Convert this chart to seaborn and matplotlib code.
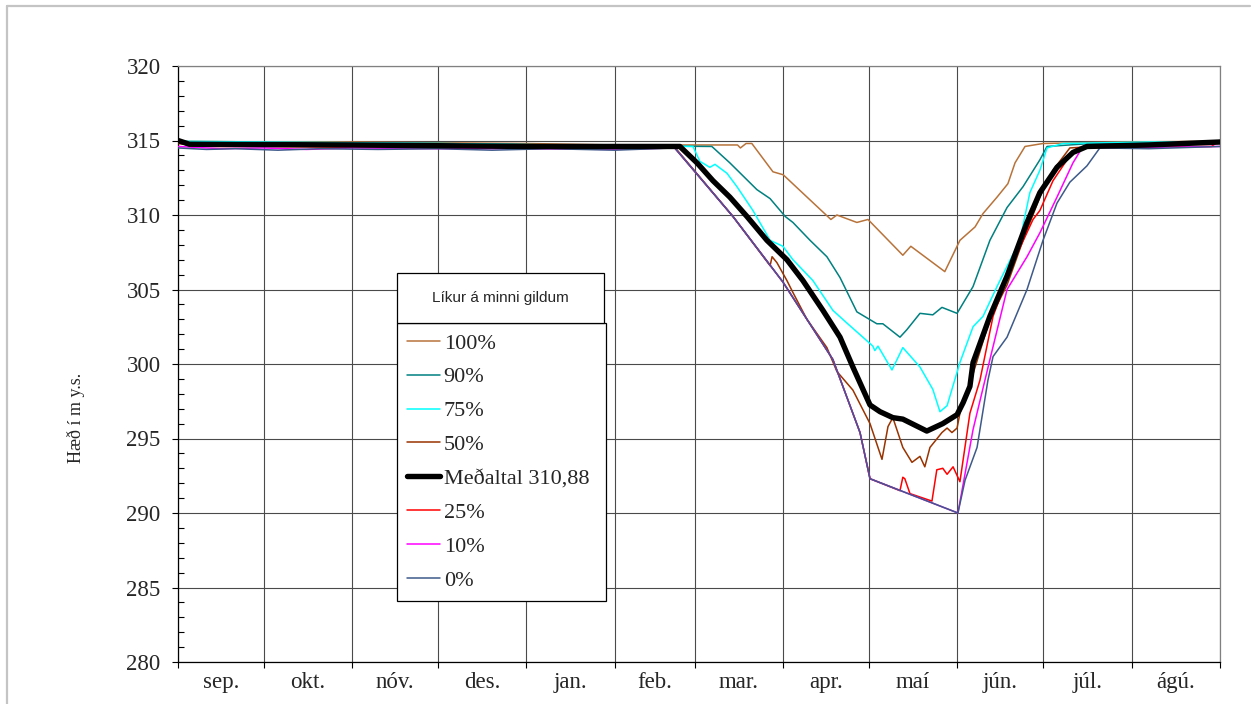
import numpy as np
import pandas as pd
import seaborn as sns
import matplotlib.pyplot as plt
from matplotlib.patches import Rectangle
from matplotlib.lines import Line2D
from matplotlib.ticker import MultipleLocator, FixedLocator, NullFormatter

# months on the x axis (days from 1 sep)
months = ['sep.', 'okt.', 'nóv.', 'des.', 'jan.', 'feb.', 'mar.', 'apr.', 'maí', 'jún.', 'júl.', 'ágú.']
month_len = [30, 31, 30, 31, 31, 28, 31, 30, 31, 30, 31, 31]

# water level (m y.s.)
d100 = [0, 30, 61, 91, 122, 153, 174, 196, 197, 199, 201, 208.4, 212, 228.7, 230.8, 237.8, 241.7,
        253.9, 256.7, 268.6, 273.9, 279.2, 282, 286.9, 290.7, 293.2, 296.7, 303, 330, 365]
v100 = [314.95, 314.9, 314.9, 314.85, 314.8, 314.7, 314.7, 314.7, 314.5, 314.8, 314.8, 312.9, 312.7, 309.7, 310.0,
        309.5, 309.7, 307.3, 307.9, 306.2, 308.3, 309.2, 310.1, 311.2, 312.1, 313.5, 314.6, 314.8, 314.9, 314.95]

d90 = [0, 30, 91, 153, 187, 193.3, 202.8, 207.4, 212.7, 215.4, 221.4, 227.3, 231.9, 237.8, 244.8, 246.9,
       252.9, 255.3, 259.9, 264.4, 267.6, 272.9, 278.5, 284.4, 290.4, 296.0, 301.9, 304.4, 320, 365]
v90 = [314.9, 314.85, 314.8, 314.65, 314.6, 313.5, 311.7, 311.1, 309.9, 309.5, 308.3, 307.2, 305.8, 303.5, 302.7,
       302.7, 301.8, 302.3, 303.4, 303.3, 303.8, 303.4, 305.2, 308.3, 310.5, 311.9, 313.7, 314.6, 314.8, 314.9]

d75 = [0, 30, 91, 153, 180.4, 182.8, 186.3, 188.1, 192.3, 195.8, 201.4, 207.4, 211.9, 215.4, 222.4, 229.4,
       234.3, 239.9, 243.4, 244.1, 245.2, 250.1, 253.9, 259.9, 264.4, 266.9, 269.4, 273.9, 278.5, 282.0,
       286.9, 294.9, 298.4, 301.9, 304.4, 310, 340, 365]
v75 = [314.95, 314.9, 314.8, 314.65, 314.6, 313.6, 313.2, 313.4, 312.8, 311.9, 310.3, 308.3, 307.9, 307.0, 305.6,
       303.6, 302.75, 301.8, 301.2, 300.9, 301.2, 299.6, 301.1, 299.8, 298.3, 296.8, 297.2, 300.1, 302.5, 303.2,
       305.2, 308.3, 311.5, 313.0, 314.5, 314.8, 314.9, 314.9]

d50 = [0, 4, 61, 122, 174, 194.4, 207.4, 208.1, 209.8, 213.3, 215.4, 220.3, 227.3, 230.8, 236.4, 242.4,
       246.6, 248.7, 250.4, 253.9, 257.1, 259.9, 261.6, 263.4, 267.6, 269.4, 271.1, 272.9, 273.9, 276.4,
       284.4, 290.4, 296.0, 301.9, 306.5, 312.4, 330, 365]
v50 = [314.8, 314.7, 314.65, 314.6, 314.55, 309.9, 306.6, 307.2, 306.8, 305.6, 304.8, 303.0, 301.1, 299.5, 298.25,
       296.0, 293.6, 295.8, 296.4, 294.4, 293.4, 293.8, 293.1, 294.4, 295.4, 295.7, 295.4, 295.7, 296.7, 298.05,
       303.0, 305.3, 308.3, 311.2, 313.0, 314.5, 314.7, 314.8]

d_mean = [0, 4, 61, 122, 174.1, 175.8, 181.8, 187.4, 193.3, 199.3, 206.3, 213.3, 218.9, 225.9, 231.9, 236.4,
          242.4, 245.9, 250.4, 253.9, 262.3, 267.9, 272.9, 275.0, 277.4, 278.5, 284.4, 290.4, 297.4, 301.9,
          307.9, 313.5, 318.4, 340, 365]
v_mean = [315.0, 314.75, 314.7, 314.6, 314.6, 314.6, 313.5, 312.3, 311.2, 309.9, 308.3, 307.0, 305.6, 303.6, 301.8,
          299.8, 297.25, 296.8, 296.4, 296.3, 295.5, 296.0, 296.6, 297.4, 298.5, 300.1, 303.2, 305.9, 309.5, 311.5,
          313.2, 314.2, 314.6, 314.7, 314.9]

d25 = [0, 4, 30, 61, 122, 174, 194.4, 211.9, 229.4, 238.9, 242.4, 252.9, 253.9, 254.6, 256.4, 264.1, 265.8,
       267.9, 269.4, 271.5, 273.9, 277.4, 280.9, 285.5, 292.5, 299.5, 301.9, 306.5, 311.4, 314.9, 340, 362, 365]
v25 = [315.0, 314.6, 314.6, 314.55, 314.5, 314.5, 309.9, 305.5, 300.3, 295.4, 292.3, 291.5, 292.4, 292.3, 291.3,
       290.8, 292.9, 293.0, 292.6, 293.1, 292.1, 296.7, 298.9, 303.2, 306.8, 309.7, 310.3, 312.3, 313.7, 314.5,
       314.6, 314.6, 315.0]

d10 = [0, 15, 30, 45, 61, 91, 122, 153, 174, 194.4, 211.9, 229.4, 238.9, 242.4, 273.2, 278.5, 284.4, 290.4,
       297.4, 301.9, 307.9, 313.5, 317.0, 330, 345, 365]
v10 = [314.6, 314.45, 314.5, 314.4, 314.5, 314.45, 314.45, 314.4, 314.5, 309.9, 305.5, 300.3, 295.4, 292.3, 290.0,
       295.6, 300.3, 305.0, 307.2, 308.8, 311.2, 313.5, 314.6, 314.5, 314.55, 314.6]

d0 = [0, 10, 20, 35, 50, 70, 91, 110, 130, 153, 174, 194.4, 211.9, 229.4, 238.9, 242.4, 273.2, 275.7, 279.9,
      283.7, 285.5, 290.4, 297.4, 303.0, 307.9, 312.4, 318.4, 322.9, 340, 365]
v0 = [314.5, 314.4, 314.45, 314.35, 314.45, 314.4, 314.45, 314.35, 314.45, 314.35, 314.5, 309.9, 305.5, 300.3, 295.4,
      292.3, 290.0, 292.2, 294.4, 298.9, 300.5, 301.8, 305.0, 308.3, 310.8, 312.2, 313.3, 314.5, 314.45, 314.6]

labels = ['100%', '90%', '75%', '50%', 'Meðaltal 310,88', '25%', '10%', '0%']
colors = ['#B8733A', '#008080', '#00FFFF', '#993300', '#000000', '#FF0000', '#FF00FF', '#3D5A8A']

sns.set_style('white')
plt.rcParams['font.family'] = ['Liberation Serif', 'DejaVu Serif']

W, H = 1253, 704
fig = plt.figure(figsize=(W / 100, H / 100), dpi=100)
ax = fig.add_axes([178 / W, 1 - 662 / H, 1042 / W, 596 / H])

all_days = [d100, d90, d75, d50, d_mean, d25, d10, d0]
all_vals = [v100, v90, v75, v50, v_mean, v25, v10, v0]
for i, (lab, d, v, c) in enumerate(zip(labels, all_days, all_vals, colors)):
    df = pd.DataFrame({'dagur': d, 'hæð': v})
    is_mean = lab.startswith('Með')
    sns.lineplot(data=df, x='dagur', y='hæð', ax=ax, color=c,
                 linewidth=3.9 if is_mean else 1.1, estimator=None, sort=False,
                 legend=False, zorder=10 if is_mean else 3 + i * 0.1)

# axes
bounds = np.concatenate([[0], np.cumsum(month_len)])
mids = (bounds[:-1] + bounds[1:]) / 2
ax.set_xlim(0, 365)
ax.set_ylim(280, 320)
ax.xaxis.set_major_locator(FixedLocator(bounds))
ax.xaxis.set_major_formatter(NullFormatter())
ax.xaxis.set_minor_locator(FixedLocator(mids))
ax.set_xticklabels(months, minor=True)
ax.yaxis.set_major_locator(MultipleLocator(5))
ax.yaxis.set_minor_locator(MultipleLocator(1))
ax.tick_params(axis='x', which='major', direction='out', length=4.5, width=0.8, color='black', bottom=True)
ax.tick_params(axis='x', which='minor', length=0, labelsize=16.5, pad=7, bottom=True)
ax.tick_params(axis='y', which='major', direction='out', length=4.5, width=0.8, color='black',
               labelsize=16.5, pad=8, left=True)
ax.tick_params(axis='y', which='minor', direction='in', length=4.5, width=0.8, color='black', left=True)
ax.grid(True, which='major', color='#4a4a4a', linewidth=0.8)
ax.set_axisbelow(True)
for s in ['left', 'bottom']:
    ax.spines[s].set_color('black')
    ax.spines[s].set_linewidth(0.9)
for s in ['top', 'right']:
    ax.spines[s].set_color('#808080')
    ax.spines[s].set_linewidth(0.9)
ax.set_xlabel('')
ax.set_ylabel('Hæð í m y.s.', fontsize=13)
ax.yaxis.set_label_coords(-0.089, 0.41)

# legend
handles = [Line2D([0], [0], color=c, lw=3.9 if l.startswith('Með') else 1.1) for l, c in zip(labels, colors)]
leg = ax.legend(handles, labels, loc='upper left', mode='expand',
                bbox_to_anchor=(397 / W, 1 - 602 / H, 209 / W, 279 / H), bbox_transform=fig.transFigure,
                fontsize=16, frameon=True, fancybox=False, edgecolor='black', framealpha=1,
                borderaxespad=0, borderpad=0.45, handlelength=1.5, handletextpad=0.15, labelspacing=0.6)
leg.get_frame().set_linewidth(0.9)
leg.set_zorder(20)

fig.add_artist(Rectangle((397 / W, 1 - 323 / H), 207 / W, 50 / H, transform=fig.transFigure,
                         facecolor='white', edgecolor='black', linewidth=0.9, zorder=21))
fig.text(500 / W, 1 - 298 / H, 'Líkur á minni gildum', ha='center', va='center',
         family=['Liberation Sans', 'DejaVu Sans'], fontsize=11, zorder=22)

# chart area border
fig.add_artist(Line2D([7 / W, 7 / W], [0, 1 - 6 / H], transform=fig.transFigure, color='#c4c4c4', lw=1.6))
fig.add_artist(Line2D([7 / W, 1250 / W], [1 - 6 / H, 1 - 6 / H], transform=fig.transFigure, color='#c4c4c4', lw=1.6))

fig.savefig('out.png', dpi=100)
